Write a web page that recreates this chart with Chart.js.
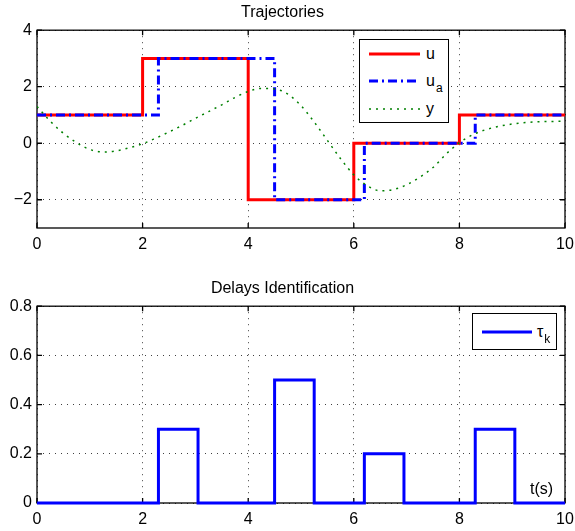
<!DOCTYPE html>
<html>
<head>
<meta charset="utf-8">
<script src="https://cdn.jsdelivr.net/npm/chart.js@4.4.0/dist/chart.umd.min.js"></script>
<style>
    body { margin: 0; background: #fff; font-family: "Liberation Sans", Arial, sans-serif; }
    #page { position: relative; width: 575px; height: 531px; overflow: hidden; }
    .wrap { position: absolute; left: 0; width: 575px; }
    .legend { position: absolute; border: 1px solid #000; background: #fff; box-sizing: border-box; }
    .legend .row { position: absolute; left: 0; right: 0; height: 0; }
    .legend svg { position: absolute; top: -5px; overflow: visible; }
    .legend .txt { position: absolute; top: -10px; font-size: 16px; line-height: 19px; color: #000; white-space: nowrap; }
    .legend .txt sub { font-size: 12px; vertical-align: baseline; position: relative; top: 6px; margin-left: 1px; }
    #xlabel { position: absolute; font-size: 16px; color: #000; white-space: nowrap; }
</style>
</head>
<body>
<div id="page">
    <div class="wrap" style="top:0; height:260px;"><canvas id="traj-chart"></canvas></div>
    <div class="wrap" style="top:260px; height:271px;"><canvas id="delay-chart"></canvas></div>
    <div id="legend-top" class="legend" style="left:359px; top:39px; width:90px; height:84px;"></div>
    <div id="legend-bottom" class="legend" style="left:472px; top:313px; width:85px; height:37px;"></div>
    <div id="xlabel" style="left:530px; top:480px;">t(s)</div>
</div>
<script>
// Input u switching times and levels
const tU = [0, 2, 4, 6, 8, 10];
const uVals = [1, 3, -2, 0, 1, 1];

// Delayed input u_a
const tUa = [0, 2.3, 4.5, 6.2, 8.3, 10];
const uaVals = [1, 3, -2, 0, 1, 1];

// Output y, every 0.25 s
const tY = [0, 0.25, 0.5, 0.75, 1, 1.25, 1.5, 1.75, 2, 2.25, 2.5, 2.75, 3, 3.25, 3.5, 3.75,
    4, 4.25, 4.5, 4.75, 5, 5.25, 5.5, 5.75, 6, 6.25, 6.5, 6.75, 7, 7.25, 7.5, 7.75,
    8, 8.25, 8.5, 8.75, 9, 9.25, 9.5, 9.75, 10];
const yVals = [1.3, 0.78, 0.35, 0.02, -0.22, -0.31, -0.27, -0.16, -0.02, 0.18, 0.4, 0.63, 0.88, 1.12, 1.36, 1.62,
    1.83, 1.94, 1.92, 1.74, 1.33, 0.75, 0.1, -0.55, -1.12, -1.5, -1.68, -1.64, -1.47, -1.2, -0.86, -0.38,
    0.02, 0.3, 0.48, 0.6, 0.68, 0.73, 0.76, 0.77, 0.78];

// Identified delays tau_k
const tTau = [0, 2.3, 3.05, 4.5, 5.25, 6.2, 6.95, 8.3, 9.05, 10];
const tauVals = [0, 0.3, 0, 0.5, 0, 0.2, 0, 0.3, 0, 0];

// Axis ticks
const xTicks = [0, 2, 4, 6, 8, 10];
const xTickLabels = ['0', '2', '4', '6', '8', '10'];
const yTicksTop = [-2, 0, 2, 4];
const yTickLabelsTop = ['\u22122', '0', '2', '4'];
const yTicksBottom = [0, 0.2, 0.4, 0.6, 0.8];
const yTickLabelsBottom = ['0', '0.2', '0.4', '0.6', '0.8'];

// Legend labels ("_" marks a subscript)
const legendTop = ['u', 'u_a', 'y'];
const legendBottom = ['\u03c4_k'];

const FONT = "'Liberation Sans', Arial, sans-serif";

function toPoints(xs, ys) {
    return xs.map((x, i) => ({ x: x, y: ys[i] }));
}

// Draws the axes box and the inward tick marks (MATLAB style)
const boxPlugin = {
    id: 'box',
    beforeDatasetsDraw(chart) {
        const { ctx, chartArea: a, scales } = chart;
        ctx.save();
        ctx.strokeStyle = '#000';
        ctx.lineWidth = 1.3;
        ctx.strokeRect(a.left, a.top, a.right - a.left, a.bottom - a.top);
        const len = 5;
        ctx.beginPath();
        scales.x.ticks.forEach(t => {
            const px = scales.x.getPixelForValue(t.value);
            ctx.moveTo(px, a.bottom); ctx.lineTo(px, a.bottom - len);
            ctx.moveTo(px, a.top); ctx.lineTo(px, a.top + len);
        });
        scales.y.ticks.forEach(t => {
            const py = scales.y.getPixelForValue(t.value);
            ctx.moveTo(a.left, py); ctx.lineTo(a.left + len, py);
            ctx.moveTo(a.right, py); ctx.lineTo(a.right - len, py);
        });
        ctx.stroke();
        ctx.restore();
    }
};

function makeScales(yMin, yMax, yTicks, yLabels, xHeight) {
    return {
        x: {
            type: 'linear', min: 0, max: 10,
            afterBuildTicks: s => { s.ticks = xTicks.map(v => ({ value: v })); },
            afterFit: s => {
                s.height = xHeight;
                // let the "10" label overhang the plot edge, as in the original
                s.paddingLeft = 0;
                s.paddingRight = 0;
            },
            ticks: {
                color: '#000', padding: 7, maxRotation: 0,
                font: { family: FONT, size: 16 },
                callback: (v, i) => xTickLabels[i]
            },
            grid: { color: 'rgba(0,0,0,0.75)', lineWidth: 1, drawTicks: false },
            border: { display: false, dash: [1, 5] }
        },
        y: {
            type: 'linear', min: yMin, max: yMax,
            afterBuildTicks: s => { s.ticks = yTicks.map(v => ({ value: v })); },
            afterFit: s => { s.width = 37; },
            ticks: {
                color: '#000', padding: 5,
                font: { family: FONT, size: 16 },
                callback: (v, i) => yLabels[i]
            },
            grid: { color: 'rgba(0,0,0,0.75)', lineWidth: 1, drawTicks: false },
            border: { display: false, dash: [1, 5] }
        }
    };
}

function makeTitle(text, padTop, padBottom) {
    return {
        display: true, text: text, color: '#000',
        font: { family: FONT, size: 16, weight: 'normal' },
        padding: { top: padTop, bottom: padBottom }
    };
}

// Top: trajectories
const trajDatasets = [
    { label: legendTop[0], data: toPoints(tU, uVals), borderColor: '#ff0000', borderWidth: 3,
      stepped: true, pointRadius: 0, order: 2 },
    { label: legendTop[1], data: toPoints(tUa, uaVals), borderColor: '#0000ff', borderWidth: 3,
      borderDash: [9, 4, 2, 4], stepped: true, pointRadius: 0, order: 1 },
    { label: legendTop[2], data: toPoints(tY, yVals), borderColor: '#008000', borderWidth: 1.5,
      borderDash: [2, 5], cubicInterpolationMode: 'monotone', pointRadius: 0, order: 0 }
];

new Chart(document.getElementById('traj-chart'), {
    type: 'line',
    data: { datasets: trajDatasets },
    options: {
        responsive: true, maintainAspectRatio: false, animation: false,
        layout: { padding: { right: 10 } },
        plugins: {
            legend: { display: false },
            tooltip: { enabled: false },
            title: makeTitle('Trajectories', 3, 8)
        },
        scales: makeScales(-3, 4, yTicksTop, yTickLabelsTop, 32)
    },
    plugins: [boxPlugin]
});

// Bottom: identified delays
const delayDatasets = [
    { label: legendBottom[0], data: toPoints(tTau, tauVals), borderColor: '#0000ff', borderWidth: 3,
      stepped: true, pointRadius: 0, clip: 4 }
];

new Chart(document.getElementById('delay-chart'), {
    type: 'line',
    data: { datasets: delayDatasets },
    options: {
        responsive: true, maintainAspectRatio: false, animation: false,
        layout: { padding: { right: 10 } },
        plugins: {
            legend: { display: false },
            tooltip: { enabled: false },
            title: makeTitle('Delays Identification', 19, 8)
        },
        scales: makeScales(0, 0.8, yTicksBottom, yTickLabelsBottom, 28)
    },
    plugins: [boxPlugin]
});

// HTML legends, built from the datasets so the subscripts stay real text
function labelHtml(label) {
    const parts = label.split('_');
    return parts[0] + (parts[1] ? '<sub>' + parts[1] + '</sub>' : '');
}

function buildLegend(id, datasets, rowYs, lineX0, lineX1, textX) {
    const box = document.getElementById(id);
    datasets.forEach((ds, i) => {
        const row = document.createElement('div');
        row.className = 'row';
        row.style.top = rowYs[i] + 'px';
        const dash = ds.borderDash ? ds.borderDash.join(' ') : 'none';
        row.innerHTML =
            '<svg width="' + (lineX1 - lineX0) + '" height="10" style="left:' + lineX0 + 'px">' +
            '<line x1="0" y1="5" x2="' + (lineX1 - lineX0) + '" y2="5" stroke="' + ds.borderColor +
            '" stroke-width="' + ds.borderWidth + '" stroke-dasharray="' + dash + '"/></svg>' +
            '<span class="txt" style="left:' + textX + 'px">' + labelHtml(ds.label) + '</span>';
        box.appendChild(row);
    });
}

buildLegend('legend-top', trajDatasets, [14, 41, 69], 9, 60, 66);
buildLegend('legend-bottom', delayDatasets, [18], 9, 59, 64);
</script>
</body>
</html>
